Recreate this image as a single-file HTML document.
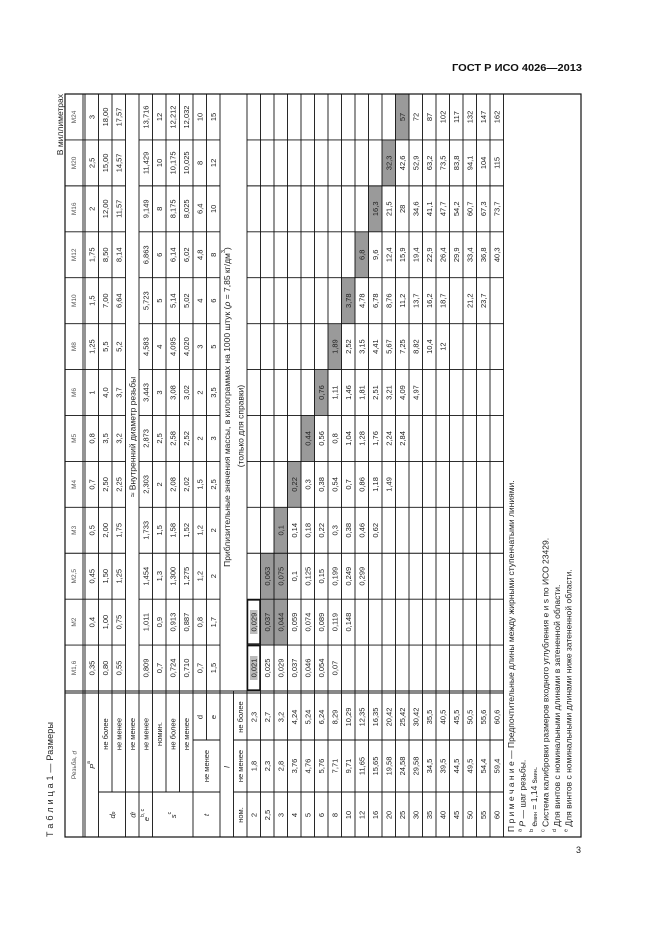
<!DOCTYPE html>
<html><head><meta charset="utf-8"><style>
html,body{margin:0;padding:0;background:#fff;}
svg{display:block;}
text{font-family:"Liberation Sans",Arial,sans-serif;fill:#222;}
.n{font-size:7.5px;text-anchor:middle;dominant-baseline:central;}
.h{font-size:6.5px;text-anchor:middle;dominant-baseline:central;fill:#555;}
.t{font-size:8.5px;dominant-baseline:central;}
</style></head><body>
<svg width="661" height="935" viewBox="0 0 661 935" xmlns="http://www.w3.org/2000/svg">
<rect width="661" height="935" fill="#fff"/>
<text x="582" y="71" text-anchor="end" style="font-size:10.5px;font-weight:bold;fill:#111" textLength="130" lengthAdjust="spacingAndGlyphs">ГОСТ Р ИСО 4026—2013</text>
<text x="578.5" y="853" text-anchor="middle" style="font-size:9px">3</text>

<g transform="translate(65,837) rotate(-90)">
<text x="0" y="-12" style="font-size:9px" textLength="115" lengthAdjust="spacing">Т а б л и ц а 1 — Размеры</text>
<text x="743" y="-2" text-anchor="end" style="font-size:8.5px">В миллиметрах</text>

<!-- shading -->
<g fill="#9a9a9a">
<rect x="191.92" y="195.5" width="45.92" height="13.5"/>
<rect x="191.92" y="209" width="45.92" height="13.5"/>
<rect x="237.84" y="195.5" width="45.92" height="13.5"/>
<rect x="237.84" y="209" width="45.92" height="13.5"/>
<rect x="283.76" y="209" width="45.92" height="13.5"/>
<rect x="329.68" y="222.5" width="45.92" height="13.5"/>
<rect x="375.6" y="236" width="45.92" height="13.5"/>
<rect x="421.52" y="249.5" width="45.92" height="13.5"/>
<rect x="467.44" y="263" width="45.92" height="13.5"/>
<rect x="513.36" y="276.5" width="45.92" height="13.5"/>
<rect x="559.28" y="290" width="45.92" height="13.5"/>
<rect x="605.2" y="303.5" width="45.92" height="13.5"/>
<rect x="651.12" y="317" width="45.92" height="13.5"/>
<rect x="697.04" y="330.5" width="45.92" height="13.5"/>
</g>
<rect x="157" y="185" width="24" height="7.5" fill="#bbb"/>
<rect x="203" y="185" width="24" height="7.5" fill="#bbb"/>

<!-- lines -->
<g stroke="#111" stroke-width="0.9" fill="none">
<rect x="0" y="0" width="743" height="516" stroke-width="1.2"/>
<rect x="147" y="182.6" width="44.3" height="12.3" stroke-width="1.3"/>
<rect x="193" y="182.6" width="44" height="12.3" stroke-width="1.3"/>
<path d="M0 18H743M0 20H743M0 33.5H743M45 47H743M0 60.5H743M0 74H743M0 87.5H743M45 101H743M45 114.5H743M0 128H743M97 141.5H743M0 155H743M0 168.5H146
M0 182H743M0 195.5H743M0 209H743M0 222.5H743M0 236H743M0 249.5H743M0 263H743M0 276.5H743M0 290H743M0 303.5H743M0 317H743M0 330.5H743M0 344H743M0 357.5H743M0 371H743M0 384.5H743M0 398H743M0 411.5H743M0 425H743M0 438.5H743"/>
<path d="M144 0V438.5M146 0V438.5M45 33.5V155M45 168.5V438.5M97 128V155M97 168.5V438.5"/>
<path d="M191.92 0V60.5M191.92 74V155M191.92 182V438.5
M237.84 0V60.5M237.84 74V155M237.84 182V438.5
M283.76 0V60.5M283.76 74V155M283.76 182V438.5
M329.68 0V60.5M329.68 74V155M329.68 182V438.5
M375.6 0V60.5M375.6 74V155M375.6 182V438.5
M421.52 0V60.5M421.52 74V155M421.52 182V438.5
M467.44 0V60.5M467.44 74V155M467.44 182V438.5
M513.36 0V60.5M513.36 74V155M513.36 182V438.5
M559.28 0V60.5M559.28 74V155M559.28 182V438.5
M605.2 0V60.5M605.2 74V155M605.2 182V438.5
M651.12 0V60.5M651.12 74V155M651.12 182V438.5
M697.04 0V60.5M697.04 74V155M697.04 182V438.5"/>
</g>

<!-- header row -->
<g transform="translate(0,9.5)">
<text class="h" x="72">Резьба, <tspan font-style="italic">d</tspan></text>
<text class="h" x="169">M1,6</text><text class="h" x="214.9">M2</text><text class="h" x="260.8">M2,5</text><text class="h" x="306.7">M3</text><text class="h" x="352.6">M4</text><text class="h" x="398.6">M5</text><text class="h" x="444.5">M6</text><text class="h" x="490.4">M8</text><text class="h" x="536.3">M10</text><text class="h" x="582.2">M12</text><text class="h" x="628.2">M16</text><text class="h" x="674.1">M20</text><text class="h" x="720">M24</text>
</g>

<!-- labels -->
<text class="n" x="72" y="26.75"><tspan font-style="italic">P</tspan><tspan font-size="5" dy="-3">a</tspan></text>
<text class="n" x="22" y="47"><tspan font-style="italic">d</tspan><tspan font-size="5" dy="2" font-style="italic">p</tspan></text>
<text class="n" x="103" y="40.25">не более</text>
<text class="n" x="103" y="53.75">не менее</text>
<text class="n" x="22" y="67.25"><tspan font-style="italic">d</tspan><tspan font-size="5" dy="2" font-style="italic">f</tspan></text>
<text class="n" x="103" y="67.25">не менее</text>
<text class="n" x="22" y="80.75"><tspan font-style="italic">e</tspan><tspan font-size="5" dy="-3">b, c</tspan></text>
<text class="n" x="103" y="80.75">не менее</text>
<text class="n" x="22" y="107.75"><tspan font-style="italic">s</tspan><tspan font-size="5" dy="-3">c</tspan></text>
<text class="n" x="103" y="94.25">номин.</text>
<text class="n" x="103" y="107.75">не более</text>
<text class="n" x="103" y="121.25">не менее</text>
<text class="n" x="22" y="141.5" font-style="italic">t</text>
<text class="n" x="71" y="141.5">не менее</text>
<text class="n" x="120" y="134.75">d</text>
<text class="n" x="120" y="148.25">e</text>
<text class="n" x="70" y="161.75" font-style="italic">l</text>
<text class="n" x="22" y="175.25">ном.</text>
<text class="n" x="71" y="175.25">не менее</text>
<text class="n" x="120" y="175.25">не более</text>

<!-- top data rows -->
<g transform="translate(0,26.75)"><text class="n" x="169">0,35</text><text class="n" x="214.9">0,4</text><text class="n" x="260.8">0,45</text><text class="n" x="306.7">0,5</text><text class="n" x="352.6">0,7</text><text class="n" x="398.6">0,8</text><text class="n" x="444.5">1</text><text class="n" x="490.4">1,25</text><text class="n" x="536.3">1,5</text><text class="n" x="582.2">1,75</text><text class="n" x="628.2">2</text><text class="n" x="674.1">2,5</text><text class="n" x="720">3</text></g>
<g transform="translate(0,40.25)"><text class="n" x="169">0,80</text><text class="n" x="214.9">1,00</text><text class="n" x="260.8">1,50</text><text class="n" x="306.7">2,00</text><text class="n" x="352.6">2,50</text><text class="n" x="398.6">3,5</text><text class="n" x="444.5">4,0</text><text class="n" x="490.4">5,5</text><text class="n" x="536.3">7,00</text><text class="n" x="582.2">8,50</text><text class="n" x="628.2">12,00</text><text class="n" x="674.1">15,00</text><text class="n" x="720">18,00</text></g>
<g transform="translate(0,53.75)"><text class="n" x="169">0,55</text><text class="n" x="214.9">0,75</text><text class="n" x="260.8">1,25</text><text class="n" x="306.7">1,75</text><text class="n" x="352.6">2,25</text><text class="n" x="398.6">3,2</text><text class="n" x="444.5">3,7</text><text class="n" x="490.4">5,2</text><text class="n" x="536.3">6,64</text><text class="n" x="582.2">8,14</text><text class="n" x="628.2">11,57</text><text class="n" x="674.1">14,57</text><text class="n" x="720">17,57</text></g>
<text class="t" x="400" y="67.25" text-anchor="middle">≈ Внутренний диаметр резьбы</text>
<g transform="translate(0,80.75)"><text class="n" x="169">0,809</text><text class="n" x="214.9">1,011</text><text class="n" x="260.8">1,454</text><text class="n" x="306.7">1,733</text><text class="n" x="352.6">2,303</text><text class="n" x="398.6">2,873</text><text class="n" x="444.5">3,443</text><text class="n" x="490.4">4,583</text><text class="n" x="536.3">5,723</text><text class="n" x="582.2">6,863</text><text class="n" x="628.2">9,149</text><text class="n" x="674.1">11,429</text><text class="n" x="720">13,716</text></g>
<g transform="translate(0,94.25)"><text class="n" x="169">0,7</text><text class="n" x="214.9">0,9</text><text class="n" x="260.8">1,3</text><text class="n" x="306.7">1,5</text><text class="n" x="352.6">2</text><text class="n" x="398.6">2,5</text><text class="n" x="444.5">3</text><text class="n" x="490.4">4</text><text class="n" x="536.3">5</text><text class="n" x="582.2">6</text><text class="n" x="628.2">8</text><text class="n" x="674.1">10</text><text class="n" x="720">12</text></g>
<g transform="translate(0,107.75)"><text class="n" x="169">0,724</text><text class="n" x="214.9">0,913</text><text class="n" x="260.8">1,300</text><text class="n" x="306.7">1,58</text><text class="n" x="352.6">2,08</text><text class="n" x="398.6">2,58</text><text class="n" x="444.5">3,08</text><text class="n" x="490.4">4,095</text><text class="n" x="536.3">5,14</text><text class="n" x="582.2">6,14</text><text class="n" x="628.2">8,175</text><text class="n" x="674.1">10,175</text><text class="n" x="720">12,212</text></g>
<g transform="translate(0,121.25)"><text class="n" x="169">0,710</text><text class="n" x="214.9">0,887</text><text class="n" x="260.8">1,275</text><text class="n" x="306.7">1,52</text><text class="n" x="352.6">2,02</text><text class="n" x="398.6">2,52</text><text class="n" x="444.5">3,02</text><text class="n" x="490.4">4,020</text><text class="n" x="536.3">5,02</text><text class="n" x="582.2">6,02</text><text class="n" x="628.2">8,025</text><text class="n" x="674.1">10,025</text><text class="n" x="720">12,032</text></g>
<g transform="translate(0,134.75)"><text class="n" x="169">0,7</text><text class="n" x="214.9">0,8</text><text class="n" x="260.8">1,2</text><text class="n" x="306.7">1,2</text><text class="n" x="352.6">1,5</text><text class="n" x="398.6">2</text><text class="n" x="444.5">2</text><text class="n" x="490.4">3</text><text class="n" x="536.3">4</text><text class="n" x="582.2">4,8</text><text class="n" x="628.2">6,4</text><text class="n" x="674.1">8</text><text class="n" x="720">10</text></g>
<g transform="translate(0,148.25)"><text class="n" x="169">1,5</text><text class="n" x="214.9">1,7</text><text class="n" x="260.8">2</text><text class="n" x="306.7">2</text><text class="n" x="352.6">2,5</text><text class="n" x="398.6">3</text><text class="n" x="444.5">3,5</text><text class="n" x="490.4">5</text><text class="n" x="536.3">6</text><text class="n" x="582.2">8</text><text class="n" x="628.2">10</text><text class="n" x="674.1">12</text><text class="n" x="720">15</text></g>
<text class="t" x="430" y="161.75" text-anchor="middle">Приблизительные значения массы, в килограммах на 1000 штук (<tspan font-style="italic">ρ</tspan> = 7,85 кг/дм<tspan font-size="5.5" dy="-3">3</tspan><tspan dy="3">)</tspan></text>
<text class="t" x="411" y="175.25" text-anchor="middle">(только для справки)</text>

<!-- length rows -->
<g transform="translate(0,188.75)"><text class="n" x="22">2</text><text class="n" x="71">1,8</text><text class="n" x="120">2,3</text><text class="n" x="169">0,021</text><text class="n" x="214.9">0,029</text></g>
<g transform="translate(0,202.25)"><text class="n" x="22">2,5</text><text class="n" x="71">2,3</text><text class="n" x="120">2,7</text><text class="n" x="169">0,025</text><text class="n" x="214.9">0,037</text><text class="n" x="260.8">0,063</text></g>
<g transform="translate(0,215.75)"><text class="n" x="22">3</text><text class="n" x="71">2,8</text><text class="n" x="120">3,2</text><text class="n" x="169">0,029</text><text class="n" x="214.9">0,044</text><text class="n" x="260.8">0,075</text><text class="n" x="306.7">0,1</text></g>
<g transform="translate(0,229.25)"><text class="n" x="22">4</text><text class="n" x="71">3,76</text><text class="n" x="120">4,24</text><text class="n" x="169">0,037</text><text class="n" x="214.9">0,059</text><text class="n" x="260.8">0,1</text><text class="n" x="306.7">0,14</text><text class="n" x="352.6">0,22</text></g>
<g transform="translate(0,242.75)"><text class="n" x="22">5</text><text class="n" x="71">4,76</text><text class="n" x="120">5,24</text><text class="n" x="169">0,046</text><text class="n" x="214.9">0,074</text><text class="n" x="260.8">0,125</text><text class="n" x="306.7">0,18</text><text class="n" x="352.6">0,3</text><text class="n" x="398.6">0,44</text></g>
<g transform="translate(0,256.25)"><text class="n" x="22">6</text><text class="n" x="71">5,76</text><text class="n" x="120">6,24</text><text class="n" x="169">0,054</text><text class="n" x="214.9">0,089</text><text class="n" x="260.8">0,15</text><text class="n" x="306.7">0,22</text><text class="n" x="352.6">0,38</text><text class="n" x="398.6">0,56</text><text class="n" x="444.5">0,76</text></g>
<g transform="translate(0,269.75)"><text class="n" x="22">8</text><text class="n" x="71">7,71</text><text class="n" x="120">8,29</text><text class="n" x="169">0,07</text><text class="n" x="214.9">0,119</text><text class="n" x="260.8">0,199</text><text class="n" x="306.7">0,3</text><text class="n" x="352.6">0,54</text><text class="n" x="398.6">0,8</text><text class="n" x="444.5">1,11</text><text class="n" x="490.4">1,89</text></g>
<g transform="translate(0,283.25)"><text class="n" x="22">10</text><text class="n" x="71">9,71</text><text class="n" x="120">10,29</text><text class="n" x="214.9">0,148</text><text class="n" x="260.8">0,249</text><text class="n" x="306.7">0,38</text><text class="n" x="352.6">0,7</text><text class="n" x="398.6">1,04</text><text class="n" x="444.5">1,46</text><text class="n" x="490.4">2,52</text><text class="n" x="536.3">3,78</text></g>
<g transform="translate(0,296.75)"><text class="n" x="22">12</text><text class="n" x="71">11,65</text><text class="n" x="120">12,35</text><text class="n" x="260.8">0,299</text><text class="n" x="306.7">0,46</text><text class="n" x="352.6">0,86</text><text class="n" x="398.6">1,28</text><text class="n" x="444.5">1,81</text><text class="n" x="490.4">3,15</text><text class="n" x="536.3">4,78</text><text class="n" x="582.2">6,8</text></g>
<g transform="translate(0,310.25)"><text class="n" x="22">16</text><text class="n" x="71">15,65</text><text class="n" x="120">16,35</text><text class="n" x="306.7">0,62</text><text class="n" x="352.6">1,18</text><text class="n" x="398.6">1,76</text><text class="n" x="444.5">2,51</text><text class="n" x="490.4">4,41</text><text class="n" x="536.3">6,78</text><text class="n" x="582.2">9,6</text><text class="n" x="628.2">16,3</text></g>
<g transform="translate(0,323.75)"><text class="n" x="22">20</text><text class="n" x="71">19,58</text><text class="n" x="120">20,42</text><text class="n" x="352.6">1,49</text><text class="n" x="398.6">2,24</text><text class="n" x="444.5">3,21</text><text class="n" x="490.4">5,67</text><text class="n" x="536.3">8,76</text><text class="n" x="582.2">12,4</text><text class="n" x="628.2">21,5</text><text class="n" x="674.1">32,3</text></g>
<g transform="translate(0,337.25)"><text class="n" x="22">25</text><text class="n" x="71">24,58</text><text class="n" x="120">25,42</text><text class="n" x="398.6">2,84</text><text class="n" x="444.5">4,09</text><text class="n" x="490.4">7,25</text><text class="n" x="536.3">11,2</text><text class="n" x="582.2">15,9</text><text class="n" x="628.2">28</text><text class="n" x="674.1">42,6</text><text class="n" x="720">57</text></g>
<g transform="translate(0,350.75)"><text class="n" x="22">30</text><text class="n" x="71">29,58</text><text class="n" x="120">30,42</text><text class="n" x="444.5">4,97</text><text class="n" x="490.4">8,82</text><text class="n" x="536.3">13,7</text><text class="n" x="582.2">19,4</text><text class="n" x="628.2">34,6</text><text class="n" x="674.1">52,9</text><text class="n" x="720">72</text></g>
<g transform="translate(0,364.25)"><text class="n" x="22">35</text><text class="n" x="71">34,5</text><text class="n" x="120">35,5</text><text class="n" x="490.4">10,4</text><text class="n" x="536.3">16,2</text><text class="n" x="582.2">22,9</text><text class="n" x="628.2">41,1</text><text class="n" x="674.1">63,2</text><text class="n" x="720">87</text></g>
<g transform="translate(0,377.75)"><text class="n" x="22">40</text><text class="n" x="71">39,5</text><text class="n" x="120">40,5</text><text class="n" x="490.4">12</text><text class="n" x="536.3">18,7</text><text class="n" x="582.2">26,4</text><text class="n" x="628.2">47,7</text><text class="n" x="674.1">73,5</text><text class="n" x="720">102</text></g>
<g transform="translate(0,391.25)"><text class="n" x="22">45</text><text class="n" x="71">44,5</text><text class="n" x="120">45,5</text><text class="n" x="582.2">29,9</text><text class="n" x="628.2">54,2</text><text class="n" x="674.1">83,8</text><text class="n" x="720">117</text></g>
<g transform="translate(0,404.75)"><text class="n" x="22">50</text><text class="n" x="71">49,5</text><text class="n" x="120">50,5</text><text class="n" x="536.3">21,2</text><text class="n" x="582.2">33,4</text><text class="n" x="628.2">60,7</text><text class="n" x="674.1">94,1</text><text class="n" x="720">132</text></g>
<g transform="translate(0,418.25)"><text class="n" x="22">55</text><text class="n" x="71">54,4</text><text class="n" x="120">55,6</text><text class="n" x="536.3">23,7</text><text class="n" x="582.2">36,8</text><text class="n" x="628.2">67,3</text><text class="n" x="674.1">104</text><text class="n" x="720">147</text></g>
<g transform="translate(0,431.75)"><text class="n" x="22">60</text><text class="n" x="71">59,4</text><text class="n" x="120">60,6</text><text class="n" x="582.2">40,3</text><text class="n" x="628.2">73,7</text><text class="n" x="674.1">115</text><text class="n" x="720">162</text></g>

<!-- notes -->
<text class="t" x="5" y="446">П р и м е ч а н и е — Предпочтительные длины между жирными ступенчатыми линиями.</text>
<text class="t" x="5" y="457.5"><tspan font-size="5.5" dy="-2">a</tspan><tspan dy="2"> </tspan><tspan font-style="italic">P</tspan> — шаг резьбы.</text>
<text class="t" x="5" y="469"><tspan font-size="5.5" dy="-2">b</tspan><tspan dy="2"> e</tspan><tspan font-size="5.5" dy="2">мин</tspan><tspan dy="-2"> = 1,14 s</tspan><tspan font-size="5.5" dy="2">мин</tspan><tspan dy="-2">.</tspan></text>
<text class="t" x="5" y="480.5"><tspan font-size="5.5" dy="-2">c</tspan><tspan dy="2"> Система калибровки размеров входного углубления e и s по ИСО 23429.</tspan></text>
<text class="t" x="5" y="492"><tspan font-size="5.5" dy="-2">d</tspan><tspan dy="2"> Для винтов с номинальными длинами в затененной области.</tspan></text>
<text class="t" x="5" y="503.5"><tspan font-size="5.5" dy="-2">e</tspan><tspan dy="2"> Для винтов с номинальными длинами ниже затененной области.</tspan></text>
</g>
</svg>
</body></html>
